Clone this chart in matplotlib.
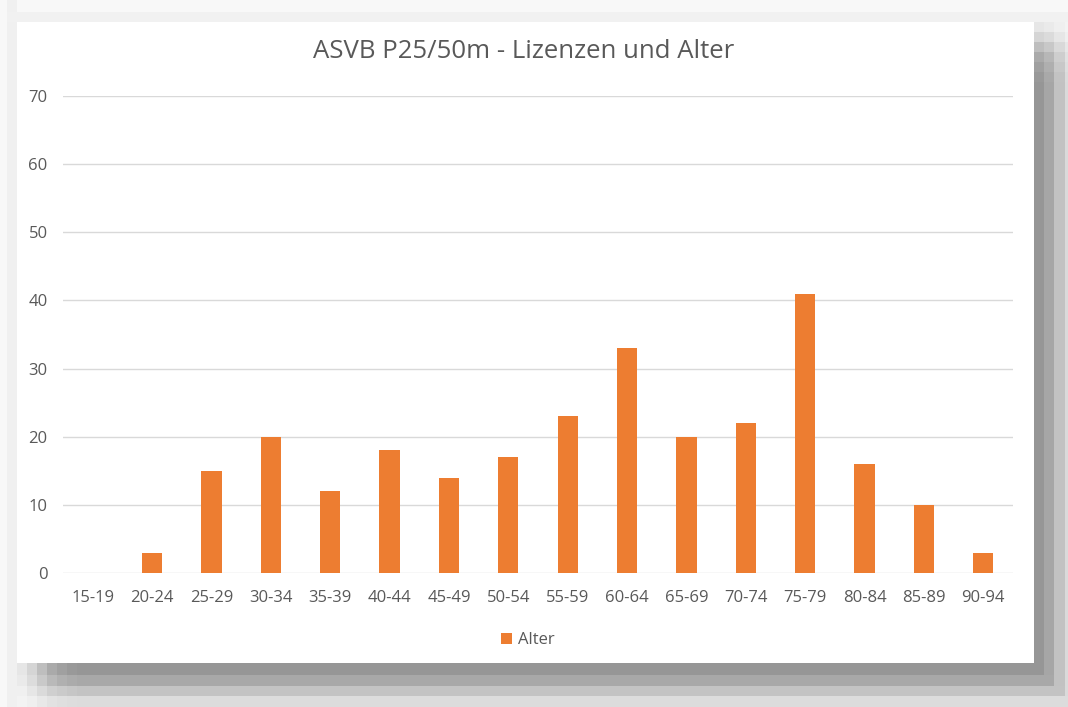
import matplotlib
matplotlib.use("Agg")
import matplotlib.pyplot as plt
import numpy as np

categories = ["15-19", "20-24", "25-29", "30-34", "35-39", "40-44", "45-49", "50-54",
              "55-59", "60-64", "65-69", "70-74", "75-79", "80-84", "85-89", "90-94"]
values = [0, 3, 15, 20, 12, 18, 14, 17, 23, 33, 20, 22, 41, 16, 10, 3]
series_name = "Alter"
title = "ASVB P25/50m - Lizenzen und Alter"
yticks = [0, 10, 20, 30, 40, 50, 60, 70]

plt.rcParams['font.family'] = ['Open Sans', 'DejaVu Sans']
W, H = 1068, 707
fig = plt.figure(figsize=(W / 100, H / 100), dpi=100, facecolor='#fbfbfb')

# ---- decorative background with blocky drop shadow (pixel image) ----
bg = 250.0
img = np.full((H, W), bg)
img[:, 0:7] = 248
img[0:12, :] = 248
img[:, 7:17] = 240
img[12:22, 7:] = 241
dark = np.zeros((H, W))
row_edges = [663, 675, 686, 696, 707]
row_d = [100, 82, 54, 30]
col_edges = [1034, 1044, 1054, 1065, 1068]
col_d = [100, 84, 56, 32]
fade = [0.2, 0.37, 0.6, 0.8, 0.9, 0.97, 1.0]
# bottom shadow
for r in range(4):
    y0, y1 = row_edges[r], row_edges[r + 1]
    for k in range(len(fade)):
        x0 = 17 + 10 * k
        x1 = 17 + 10 * (k + 1) if k < len(fade) - 1 else 1034
        dark[y0:y1, x0:x1] = row_d[r] * fade[k]
# right shadow
for c in range(4):
    x0, x1 = col_edges[c], col_edges[c + 1]
    for k in range(len(fade)):
        y0 = 22 + 10 * k
        y1 = 22 + 10 * (k + 1) if k < len(fade) - 1 else 663
        dark[y0:y1, x0:x1] = col_d[c] * fade[k]
# corner
for r in range(4):
    for c in range(4):
        dark[row_edges[r]:row_edges[r + 1], col_edges[c]:col_edges[c + 1]] = min(row_d[r], col_d[c])
img = img - dark
img[22:663, 17:1034] = 255
fig.figimage(img, cmap='gray', vmin=0, vmax=255, origin='upper', zorder=-10)

# ---- chart ----
ax = fig.add_axes([63 / W, 1 - 573 / H, (1013 - 63) / W, (573 - 96) / H])
ax.set_facecolor('none')
x = range(len(categories))
ax.bar(x, values, width=0.34, color='#ED7D31', zorder=3, label=series_name)
ax.set_xlim(-0.5, len(categories) - 0.5)
ax.set_ylim(0, 70)
ax.set_yticks(yticks)
ax.set_xticks(list(x))
ax.set_xticklabels(categories)
ax.grid(axis='y', color='#d9d9d9', linewidth=1, zorder=0)
for s in ax.spines.values():
    s.set_visible(False)
ax.tick_params(axis='both', length=0, labelsize=12, colors='#595959')
ax.tick_params(axis='y', pad=11)
ax.tick_params(axis='x', pad=12)

fig.text(524 / W, 1 - 52 / H, title, ha='center', va='center', fontsize=18.5, color='#595959')
fig.legend(loc='center', bbox_to_anchor=(528 / W, 1 - 640 / H), frameon=False,
           fontsize=12, labelcolor='#595959', handlelength=0.65, handleheight=0.65,
           handletextpad=0.35)

fig.savefig('out.png', dpi=100, facecolor=fig.get_facecolor())
